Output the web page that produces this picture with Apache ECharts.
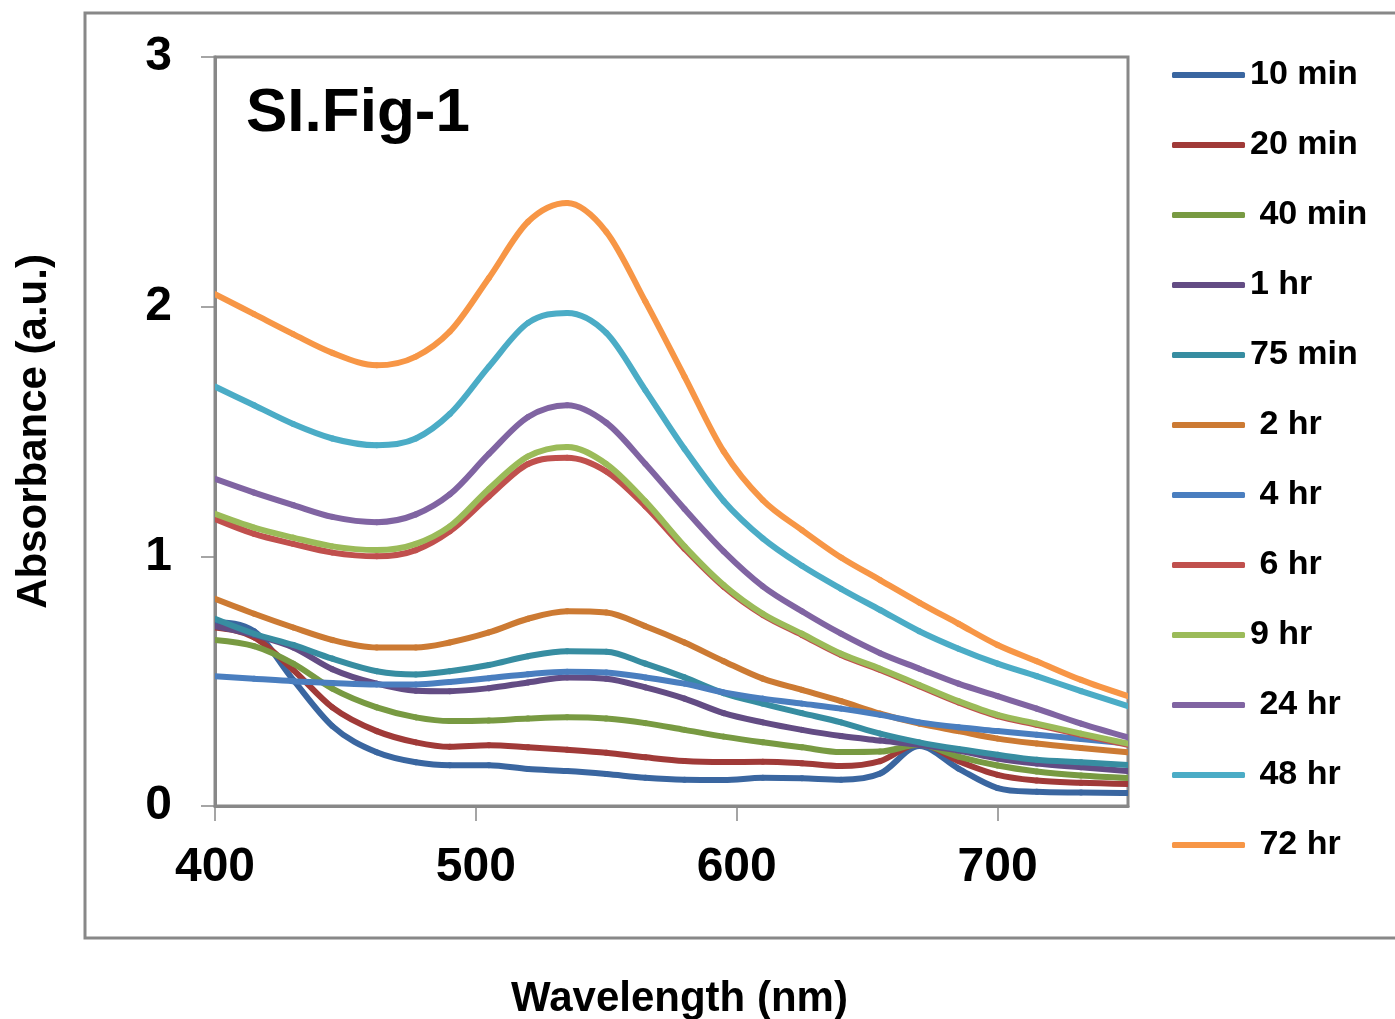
<!DOCTYPE html>
<html>
<head>
<meta charset="utf-8">
<title>SI.Fig-1 absorbance spectra</title>
<script src="https://cdn.jsdelivr.net/npm/echarts@6/dist/echarts.min.js"></script>
<style>
  html, body { margin: 0; padding: 0; background: #fff; }
  #chart { width: 1395px; height: 1019px; }
</style>
</head>
<body>
<div id="chart"></div>
<script>
// Wavelength samples (nm) shared by every spectrum; points sit on the 535 nm band and the 670 nm shoulder
const wavelengths = [400,415,430,445,462,477,490,505,520,535,550,565,580,595,610,625,640,655,670,685,700,715,732,750];

// Absorbance (a.u.) for each reaction time
const abs10min = [0.735,0.70,0.505,0.32,0.215,0.175,0.163,0.163,0.148,0.14,0.128,0.113,0.105,0.104,0.113,0.111,0.105,0.13,0.24,0.15,0.072,0.057,0.054,0.052];
const abs20min = [0.715,0.675,0.545,0.395,0.30,0.255,0.237,0.243,0.235,0.225,0.213,0.195,0.18,0.176,0.177,0.171,0.16,0.18,0.25,0.18,0.125,0.102,0.093,0.088];
const abs40min = [0.665,0.64,0.57,0.47,0.395,0.355,0.34,0.342,0.35,0.355,0.35,0.332,0.305,0.278,0.255,0.235,0.216,0.218,0.245,0.198,0.162,0.138,0.122,0.112];
const abs1hr   = [0.72,0.685,0.635,0.548,0.49,0.462,0.46,0.472,0.495,0.515,0.51,0.475,0.43,0.372,0.335,0.305,0.28,0.262,0.245,0.222,0.19,0.17,0.155,0.14];
const abs75min = [0.75,0.69,0.645,0.59,0.54,0.527,0.54,0.565,0.60,0.62,0.618,0.57,0.515,0.452,0.41,0.372,0.335,0.29,0.255,0.228,0.205,0.185,0.175,0.164];
const abs2hr   = [0.83,0.77,0.715,0.665,0.635,0.635,0.655,0.695,0.75,0.78,0.775,0.72,0.655,0.58,0.51,0.465,0.42,0.37,0.33,0.30,0.27,0.25,0.232,0.215];
const abs4hr   = [0.52,0.51,0.50,0.493,0.487,0.487,0.497,0.512,0.528,0.538,0.535,0.515,0.49,0.455,0.43,0.41,0.39,0.365,0.335,0.315,0.30,0.285,0.268,0.25];
const abs6hr   = [1.15,1.09,1.05,1.015,1.0,1.025,1.10,1.24,1.37,1.395,1.34,1.20,1.03,0.878,0.765,0.685,0.605,0.545,0.48,0.415,0.36,0.325,0.285,0.245];
const abs9hr   = [1.17,1.115,1.075,1.04,1.025,1.05,1.12,1.27,1.40,1.438,1.37,1.22,1.04,0.885,0.77,0.69,0.61,0.55,0.485,0.42,0.365,0.33,0.29,0.25];
const abs24hr  = [1.31,1.255,1.205,1.158,1.137,1.168,1.248,1.41,1.558,1.605,1.535,1.37,1.19,1.02,0.88,0.78,0.69,0.612,0.55,0.49,0.44,0.39,0.33,0.275];
const abs48hr  = [1.68,1.605,1.53,1.472,1.445,1.472,1.57,1.76,1.935,1.975,1.895,1.665,1.43,1.222,1.072,0.962,0.87,0.785,0.70,0.63,0.57,0.52,0.46,0.40];
const abs72hr  = [2.05,1.97,1.89,1.815,1.765,1.80,1.90,2.115,2.34,2.415,2.30,2.02,1.72,1.42,1.225,1.105,0.995,0.905,0.815,0.73,0.645,0.58,0.505,0.44];

// Legend labels (leading spaces keep the label indents of the key)
const seriesNames = ['10 min','20 min',' 40 min','1 hr','75 min',' 2 hr',' 4 hr',' 6 hr','9 hr',' 24 hr',' 48 hr',' 72 hr'];
const seriesValues = [abs10min,abs20min,abs40min,abs1hr,abs75min,abs2hr,abs4hr,abs6hr,abs9hr,abs24hr,abs48hr,abs72hr];
const seriesColors = ['#3A66A0','#A03A38','#789A42','#634C84','#378DA1','#CC7A33','#4A7EBF','#C0504D','#9BBB59','#8064A2','#4BACC6','#F79646'];

// Axis ticks
const xTicks = [400,500,600,700];
const yTicks = [0,1,2,3];

const FONT = '"Liberation Sans", Arial, Helvetica, sans-serif';
const LINE_WIDTH = 6;
const chart = echarts.init(document.getElementById('chart'), null, { renderer: 'canvas' });

// Smoothed spectrum: the measured points are mapped through the axes with api.coord and
// joined by cubic Bezier segments; tangents follow the weighted central slope, are flat at
// local extrema and are limited (Fritsch-Carlson) so that no segment overshoots.
function spectrumRenderer(values, color) {
  return function (params, api) {
    if (params.dataIndex !== 0) return null;
    const pts = wavelengths.map((w, i) => api.coord([w, values[i]]));
    const n = pts.length;
    const m = new Array(n).fill(0);
    for (let i = 1; i < n - 1; i++) {
      const h0 = pts[i][0] - pts[i - 1][0];
      const h1 = pts[i + 1][0] - pts[i][0];
      const s0 = (pts[i][1] - pts[i - 1][1]) / h0;
      const s1 = (pts[i + 1][1] - pts[i][1]) / h1;
      if (s0 * s1 <= 0) { m[i] = 0; continue; }
      const p = (s0 * h1 + s1 * h0) / (h0 + h1);
      const lim = 3 * Math.min(Math.abs(s0), Math.abs(s1));
      m[i] = Math.sign(p) * Math.min(Math.abs(p), lim);
    }
    const hA = pts[1][0] - pts[0][0];
    m[0] = (3 * (pts[1][1] - pts[0][1]) / hA - m[1]) / 2;
    const hB = pts[n - 1][0] - pts[n - 2][0];
    m[n - 1] = (3 * (pts[n - 1][1] - pts[n - 2][1]) / hB - m[n - 2]) / 2;

    const children = [];
    for (let i = 0; i < n - 1; i++) {
      const dx = (pts[i + 1][0] - pts[i][0]) / 3;
      children.push({
        type: 'bezierCurve',
        shape: {
          x1: pts[i][0], y1: pts[i][1],
          cpx1: pts[i][0] + dx, cpy1: pts[i][1] + dx * m[i],
          cpx2: pts[i + 1][0] - dx, cpy2: pts[i + 1][1] - dx * m[i + 1],
          x2: pts[i + 1][0], y2: pts[i + 1][1]
        },
        style: { stroke: color, lineWidth: LINE_WIDTH, fill: null, lineCap: 'round', lineJoin: 'round' }
      });
    }
    return { type: 'group', children: children };
  };
}

const series = seriesNames.map((name, k) => ({
  name: name,
  type: 'custom',
  coordinateSystem: 'cartesian2d',
  clip: true,
  silent: true,
  encode: { x: 0, y: 1 },
  data: wavelengths.map((w, i) => [w, seriesValues[k][i]]),
  itemStyle: { color: seriesColors[k] },
  renderItem: spectrumRenderer(seriesValues[k], seriesColors[k])
}));

chart.setOption({
  backgroundColor: '#ffffff',
  animation: false,
  textStyle: { fontFamily: FONT },
  title: {
    text: 'SI.Fig-1',
    left: 241,
    top: 78,
    textStyle: { fontFamily: FONT, fontSize: 62, fontWeight: 'bold', color: '#000' }
  },
  legend: {
    orient: 'vertical',
    left: 1167,
    top: 53,
    icon: 'roundRect',
    itemWidth: 73,
    itemHeight: 6,
    itemGap: 36,
    selectedMode: false,
    textStyle: { fontFamily: FONT, fontSize: 34, fontWeight: 'bold', color: '#000', lineHeight: 34 },
    data: seriesNames
  },
  grid: {
    left: 215, top: 57, right: 267, bottom: 213,
    show: true, borderColor: '#888', borderWidth: 3,
    outerBoundsMode: 'none'
  },
  xAxis: {
    type: 'value',
    min: 400, max: 750, interval: 100,
    name: 'Wavelength (nm)',
    nameLocation: 'middle',
    nameGap: 172,
    nameTextStyle: { fontFamily: FONT, fontSize: 42, fontWeight: 'bold', color: '#000', padding: [0, 0, 0, 16] },
    axisLine: { show: true, lineStyle: { color: '#888', width: 3 } },
    axisTick: { show: true, length: 15, customValues: xTicks, lineStyle: { color: '#888', width: 1.5 } },
    axisLabel: { customValues: xTicks, fontFamily: FONT, fontSize: 48, fontWeight: 'bold', color: '#000', margin: 38 },
    splitLine: { show: false }
  },
  yAxis: {
    type: 'value',
    min: 0, max: 3, interval: 1,
    name: 'Absorbance (a.u.)',
    nameLocation: 'middle',
    nameGap: 160,
    nameRotate: 90,
    nameTextStyle: { fontFamily: FONT, fontSize: 42, fontWeight: 'bold', color: '#000' },
    axisLine: { show: true, lineStyle: { color: '#888', width: 3 } },
    axisTick: { show: true, length: 14, customValues: yTicks, lineStyle: { color: '#888', width: 1.5 } },
    axisLabel: { customValues: yTicks, fontFamily: FONT, fontSize: 48, fontWeight: 'bold', color: '#000', margin: 43 },
    splitLine: { show: false }
  },
  graphic: [
    {
      type: 'rect',
      silent: true,
      z: -1,
      shape: { x: 85, y: 13, width: 1400, height: 925 },
      style: { fill: null, stroke: '#888', lineWidth: 3 }
    }
  ],
  series: series
});
</script>
</body>
</html>
